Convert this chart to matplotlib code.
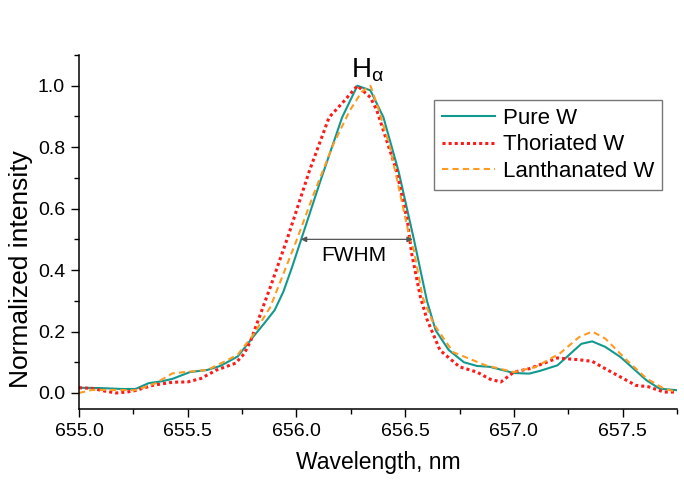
import matplotlib
matplotlib.use("Agg")
import matplotlib.pyplot as plt
from matplotlib.ticker import MultipleLocator

plt.rcParams['font.family'] = ['Liberation Sans', 'DejaVu Sans']
plt.rcParams['mathtext.fontset'] = 'custom'
plt.rcParams['mathtext.rm'] = 'Liberation Sans'
plt.rcParams['mathtext.it'] = 'Liberation Sans'

# Pure W
wl_pure = [655.00, 655.10, 655.20, 655.26, 655.32, 655.38, 655.43, 655.51, 655.59,
           655.65, 655.73, 655.80, 655.85, 655.90, 655.94, 655.98, 656.02, 656.11,
           656.21, 656.28, 656.34, 656.40, 656.47, 656.54, 656.57, 656.60, 656.64,
           656.70, 656.77, 656.83, 656.89, 657.00, 657.07, 657.12, 657.20, 657.26,
           657.31, 657.36, 657.42, 657.49, 657.55, 657.61, 657.67, 657.75]
int_pure = [0.017, 0.016, 0.013, 0.013, 0.032, 0.038, 0.046, 0.068, 0.075,
            0.088, 0.119, 0.182, 0.225, 0.270, 0.330, 0.410, 0.496, 0.690,
            0.897, 1.000, 0.985, 0.897, 0.720, 0.500, 0.400, 0.300, 0.204,
            0.140, 0.100, 0.088, 0.085, 0.065, 0.063, 0.072, 0.090, 0.128,
            0.160, 0.168, 0.150, 0.117, 0.079, 0.041, 0.014, 0.009]

# Thoriated W
wl_th = [655.00, 655.06, 655.12, 655.17, 655.22, 655.26, 655.34, 655.43, 655.50,
         655.56, 655.63, 655.72, 655.76, 655.79, 655.88, 655.96, 656.06, 656.15,
         656.22, 656.28, 656.34, 656.37, 656.41, 656.46, 656.51, 656.53, 656.57,
         656.60, 656.66, 656.75, 656.83, 656.89, 656.94, 657.00, 657.07, 657.15,
         657.20, 657.30, 657.36, 657.42, 657.49, 657.56, 657.62, 657.69, 657.75]
int_th = [0.017, 0.015, 0.006, 0.000, 0.003, 0.008, 0.025, 0.035, 0.036,
          0.047, 0.074, 0.097, 0.128, 0.171, 0.345, 0.507, 0.724, 0.897,
          0.951, 1.000, 0.962, 0.919, 0.832, 0.724, 0.561, 0.453, 0.312,
          0.240, 0.139, 0.085, 0.068, 0.045, 0.036, 0.068, 0.079, 0.100,
          0.114, 0.108, 0.103, 0.079, 0.052, 0.025, 0.020, 0.003, 0.003]

# Lanthanated W
wl_la = [655.00, 655.06, 655.15, 655.26, 655.35, 655.43, 655.50, 655.59, 655.68,
         655.73, 655.80, 655.88, 655.94, 656.00, 656.08, 656.17, 656.245, 656.30,
         656.34, 656.37, 656.43, 656.52, 656.54, 656.58, 656.63, 656.72, 656.87,
         657.00, 657.10, 657.21, 657.30, 657.36, 657.42, 657.52, 657.61, 657.69,
         657.75]
int_la = [0.000, 0.010, 0.010, 0.009, 0.031, 0.064, 0.069, 0.075, 0.106,
          0.125, 0.188, 0.280, 0.388, 0.496, 0.649, 0.810, 0.919, 0.980,
          1.000, 0.940, 0.800, 0.507, 0.464, 0.312, 0.226, 0.133, 0.090,
          0.068, 0.085, 0.128, 0.182, 0.200, 0.177, 0.106, 0.047, 0.014,
          0.003]

fig = plt.figure(figsize=(6.84, 4.8), dpi=100)
ax = fig.add_axes([0.1155, 0.148, 0.8743, 0.7374])

ax.plot(wl_pure, int_pure, color='#12998f', lw=1.5, ls='-', label='Pure W')
ax.plot(wl_th, int_th, color='#ff1a1a', lw=2.2, ls=(0, (1, 1)), label='Thoriated W')
ax.plot(wl_la, int_la, color='#ff9a22', lw=1.5, ls=(0, (3, 2)), label='Lanthanated W')

ax.set_xlim(655.0, 657.75)
ax.set_ylim(-0.052, 1.1)

ax.xaxis.set_major_locator(MultipleLocator(0.5))
ax.xaxis.set_minor_locator(MultipleLocator(0.25))
ax.yaxis.set_major_locator(MultipleLocator(0.2))
ax.yaxis.set_minor_locator(MultipleLocator(0.1))
ax.xaxis.set_major_formatter(plt.FormatStrFormatter('%.1f'))
ax.yaxis.set_major_formatter(plt.FormatStrFormatter('%.1f'))

ax.spines['top'].set_visible(False)
ax.spines['right'].set_visible(False)
for s in ['left', 'bottom']:
    ax.spines[s].set_linewidth(1.1)
ax.tick_params(which='major', direction='out', length=6, width=1.0, labelsize=14, pad=4)
ax.tick_params(which='minor', direction='out', length=3.5, width=1.0)

ax.set_xlabel('Wavelength, nm', fontsize=16.5, labelpad=8)
ax.set_ylabel('Normalized intensity', fontsize=19)
ax.yaxis.set_label_coords(-0.077, 0.395)

# H-alpha label and FWHM marker
ax.text(656.25, 1.026, r'H$_\alpha$', fontsize=20, ha='left', va='baseline')
ax.annotate('', xy=(656.02, 0.5), xytext=(656.535, 0.5),
            arrowprops=dict(arrowstyle='<|-|>', color='#555555', lw=0.9,
                            mutation_scale=8, shrinkA=0, shrinkB=0))
ax.text(656.264, 0.447, 'FWHM', fontsize=15, ha='center', va='center')

leg = ax.legend(loc='upper right', bbox_to_anchor=(662 / 684, 1 - 100 / 480),
                bbox_transform=fig.transFigure, borderaxespad=0, fontsize=16,
                fancybox=False, framealpha=1, edgecolor='#777777',
                handlelength=2.4, handletextpad=0.35, labelspacing=0.25,
                borderpad=0.35)
leg.get_frame().set_linewidth(1.0)

fig.savefig('out.png', dpi=100)
